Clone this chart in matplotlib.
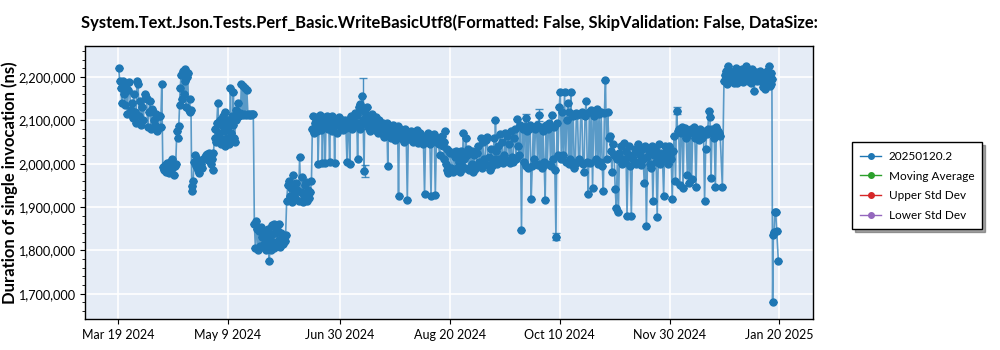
import matplotlib
matplotlib.use("Agg")
import matplotlib.pyplot as plt
import matplotlib.dates as mdates
from matplotlib.ticker import FuncFormatter, MultipleLocator
import numpy as np
import pandas as pd

plt.rcParams['font.family'] = ['Lato', 'DejaVu Sans']

title = "System.Text.Json.Tests.Perf_Basic.WriteBasicUtf8(Formatted: False, SkipValidation: False, DataSize:"
ylabel = "Duration of single invocation (ns)"
series_label = "20250120.2"
legend_extra = ["Moving Average", "Upper Std Dev", "Lower Std Dev"]

first_day = "2024-03-19"
# runs per day (thousands of ns), one inner list per day starting at first_day
runs_by_day = [
    [2222, 2190], [2175, 2140], [2192, 2160], [2135, 2185], [2115, 2170],
    [2188, 2125], [2140, 2105], [2160, 2120], [2095, 2190], [2185, 2110],
    [2145, 2090], [2130, 2100], [2160, 2155], [2150, 2085], [2120, 2145],
    [2080, 2126], [2120, 2100], [2090, 2115], [2076, 2110], [2111, 2084],
    [2184, 1992], [1985, 1998], [1980, 2002], [1990, 1978], [2005, 1985],
    [2010, 1992, 1975], [1995, 2000], [2075, 2060], [2088, 2135, 2175], [2205, 2150],
    [2215, 2160, 2190], [2218, 2130, 2200], [2210, 2125], [2150, 2120, 2125], [1948, 1938, 1960],
    [2005, 2020], [1995, 2010], [1985, 1978], [2000, 1990], [2012],
    [2015, 2020], [2022, 2008], [2025, 2018], [2000, 2010, 1985], [2025, 2060],
    [2080, 2050, 2095], [2140, 2070], [2060, 2100, 2045], [2090, 2110, 2050], [2075, 2120, 2042],
    [2100, 2060], [2085, 2045, 2095], [2175, 2070, 2110], [2090, 2165, 2060], [2050, 2125, 2100],
    [2115, 2140], [2110, 2118], [2185, 2112], [2180, 2115, 2175], [2112, 2170],
    [2115, 2113], [2116, 2112], [2114, 2115], [1860, 1805], [1868, 1850, 1800],
    [1845, 1810], [1855, 1808, 1830], [1848, 1815], [1840, 1800], [1825, 1850],
    [1776, 1810, 1835], [1800, 1858, 1820], [1862, 1805, 1840], [1850, 1810], [1845, 1825, 1860],
    [1808, 1840], [1830, 1815], [1822, 1835], [1915, 1950], [1960, 1925],
    [1945, 1912], [1975, 1930], [1920, 1955], [1940, 1915], [2015, 1935],
    [1970, 1912], [1925, 1950], [1958, 1915], [1940, 1920], [1935, 1960],
    [2080, 2110, 2072], [2095, 2105], [2075, 2108, 2000], [2090, 2112], [2078, 2100, 2002],
    [2108, 2085], [2001, 2095, 2110], [2080, 2105], [2003, 2090, 2100], [2075, 2110, 2082],
    [2104, 2002, 2095], [2098, 2070], [2092, 2108], [2085, 2100], [2078, 2095],
    [2100, 2082], [2003, 2090], [2098, 2000, 2085], [2110, 2080], [2100, 2118],
    [2090, 2112], [2011, 2095, 2130], [2138, 2080, 2125], [2157, 2100], [1984, 2120, 2095],
    [2110, 2130], [2085, 2105, 2075], [2100, 2080, 2115], [2095, 2085], [2078, 2108],
    [2090, 2072], [2100, 2085], [2080, 2095], [2062, 2090], [2075, 2095],
    [1995, 2080, 2070], [2085, 2060], [2065, 2090], [2075, 2055], [2070, 2088],
    [1926, 2065, 2080], [2060, 2075], [2068, 2050], [2080, 2062], [1917, 2070],
    [2058, 2075], [2065, 2050], [2072, 2055], [2060, 2078], [2048, 2065],
    [2070, 2055], [2062, 2045], [1930, 2065], [2050, 2070], [2060, 2045],
    [1926, 2062], [2055, 2068], [1928, 2050], [2060, 2045], [2021, 2058],
    [2065, 2040], [2050, 2010, 2075], [2000, 2035, 1985], [1978, 2030], [2025, 1990],
    [1982, 2028], [2015, 1985, 2030], [1990, 2020], [2005, 1982], [2030, 1995],
    [2070, 2010], [1990, 2060, 2020], [2035, 1985], [2025, 1995], [2000, 2030, 1980],
    [2020, 1988], [1995, 2025], [2040, 2005], [2060, 1990], [2050, 2010],
    [2000, 2055], [2062, 1998], [2015, 1985], [2035, 1995], [2005, 2060, 2010],
    [2102, 2030, 2000], [2040, 2010], [2068, 2005], [2050, 2002], [2020, 2070],
    [2008, 2065], [2045, 2001], [2075, 2015], [2003, 2060], [2080, 2010],
    [2103, 2040], [2020, 2090], [1847, 2080], [2005, 2085], [2105, 1995, 2075],
    [1990, 2080], [2090, 1918], [1995, 2085], [2010, 2080], [2090, 1998],
    [2112, 2000], [2085, 1990], [2075, 2005], [1917, 2090], [2000, 2080],
    [2095, 1995], [2112, 2010], [2085, 1985], [1832, 2095], [2020, 2130],
    [2165, 2010], [2120, 2020], [2165, 2005], [2100, 2140], [2000, 2120, 2010],
    [2165, 2005, 2115], [2110, 1991], [2000, 2118], [2112, 2010], [2005, 2115],
    [2120, 2000], [1980, 2110], [2145, 2005], [1930, 2120], [2002, 2125],
    [1943, 2110], [2120, 2010], [2126, 2000], [2115, 2005], [2120, 1995],
    [1936, 2118], [2193, 2010], [2120, 2060], [2065, 2030], [1980, 2045],
    [2020, 1942], [1899, 2010], [1888, 2025], [2040, 2000], [2010, 2048],
    [2005, 2030], [1880, 2015], [2040, 1995], [1880, 2020], [2010, 2035],
    [2000, 2030], [2045, 2005], [2020, 1998], [2035, 2010], [1955, 2040],
    [1857, 2015], [2030, 2000], [1990, 2040], [1913, 2020], [2035, 2005],
    [1878, 2010], [2045, 2000], [2025, 2010], [1926, 2040], [2015, 2030],
    [2000, 2040], [2020, 2010], [1918, 2030], [2065, 1960], [2122, 2075],
    [2080, 1950], [2070, 2085], [1944, 2075], [2082, 2060], [1975, 2068],
    [1956, 2080], [1966, 2072], [2085, 2060], [1946, 2075], [2070, 2055],
    [2080, 2062], [2060, 2075], [1915, 2034], [2068, 2080], [2122, 2107],
    [1967, 2080], [2070, 2060], [1946, 2085], [2075, 2070], [2065],
    [1947], [2190, 2205], [2215, 2185], [2226, 2195], [2190, 2212],
    [2208, 2186], [2200, 2220], [2186, 2210], [2215, 2190], [2195, 2218],
    [2188, 2205], [2225, 2200], [2192, 2215], [2210, 2186], [2218, 2195],
    [2168, 2205], [2212, 2190], [2195, 2215], [2205, 2188], [2178, 2210],
    [2172, 2200], [2215, 2185], [2226, 2190, 2180, 2210], [2185, 2195, 1682], [1835, 1842, 1889],
    [1889, 1845], [1776],
]

# the few runs whose error bars stand out (day index, thousands of ns, half-width)
err_days = [113, 114, 189, 195, 203, 259]
err_means = [2157, 1984, 2105, 2112, 1832, 2122]
err_sizes = [40, 14, 10, 14, 9, 8]

x_ticks = ["2024-03-19", "2024-05-09", "2024-06-30", "2024-08-20",
           "2024-10-10", "2024-11-30", "2025-01-20"]

blue = "#1f77b4"
start = pd.Timestamp(first_day)
xs, ys = [], []
for d, runs in enumerate(runs_by_day):
    n = len(runs)
    for k, v in enumerate(runs):
        xs.append(start + pd.Timedelta(days=d + (k + 0.5) / n))
        ys.append(v * 1000)

fig = plt.figure(figsize=(10, 3.5), dpi=100)
ax = fig.add_axes([0.085, 0.089, 0.728, 0.7797])
ax.set_facecolor("#E5ECF6")
ax.grid(True, color="white", lw=1.2)
ax.set_axisbelow(True)

ax.plot(xs, ys, color=blue, lw=1.2, alpha=0.7, zorder=2)
ax.errorbar(xs, ys, yerr=np.zeros(len(ys)), fmt="o", ms=5, color=blue,
            ecolor=blue, capsize=3, elinewidth=1, zorder=3)
ex = [start + pd.Timedelta(days=d + 0.5) for d in err_days]
ax.errorbar(ex, [m * 1000 for m in err_means], yerr=[s * 1000 for s in err_sizes],
            fmt="none", ecolor=blue, capsize=3, elinewidth=1, alpha=0.8, zorder=3)

h_main, = ax.plot([], [], color=blue, marker="o", ms=4, lw=1, label=series_label)
handles = [h_main]
for lab, c in zip(legend_extra, ["#2ca02c", "#d62728", "#9467bd"]):
    h, = ax.plot([], [], color=c, marker="o", ms=4, lw=1, label=lab)
    handles.append(h)

ax.set_xlim(pd.Timestamp("2024-03-03 15:00"), pd.Timestamp("2025-02-04 14:00"))
ax.set_ylim(1642000, 2272000)
ax.set_xticks([pd.Timestamp(t) for t in x_ticks])
ax.xaxis.set_major_formatter(mdates.DateFormatter("%b %-d %Y"))
ax.yaxis.set_major_locator(MultipleLocator(100000))
ax.yaxis.set_minor_locator(MultipleLocator(20000))
ax.yaxis.set_major_formatter(FuncFormatter(lambda v, p: f"{v:,.0f}"))
ax.tick_params(axis="x", labelsize=9, colors="black", direction="out")
ax.tick_params(axis="y", labelsize=9.2, colors="black", direction="out")
ax.tick_params(axis="y", which="minor", length=2)
for s in ax.spines.values():
    s.set_color("black")
    s.set_linewidth(1)

ax.set_title(title, fontsize=11.9, fontweight="bold", pad=13)
ax.set_ylabel(ylabel, fontsize=12, fontweight="bold")
ax.yaxis.set_label_coords(-0.092, 0.5)

fig.legend(handles=handles, loc="upper left", bbox_to_anchor=(0.846, 0.61),
           fancybox=False, shadow=True, edgecolor="black", framealpha=1,
           fontsize=8.5, handlelength=1.8, borderpad=0.7, labelspacing=0.75,
           handletextpad=0.6)

fig.savefig("out.png", dpi=100)
